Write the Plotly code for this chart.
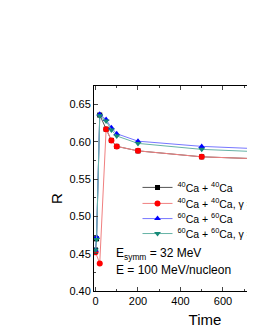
import plotly.graph_objects as go

x_vals = [0, 5, 20, 50, 75, 100, 200, 500, 1000]
x_red = [0, 20, 50, 75, 100, 200, 500, 1000]
ca40 = [0.455, 0.470, 0.636, 0.617, 0.602, 0.594, 0.588, 0.580, 0.575]
ca40_g = [0.452, 0.437, 0.617, 0.602, 0.594, 0.588, 0.580, 0.575]
ca60 = [0.455, 0.4725, 0.637, 0.630, 0.619, 0.611, 0.601, 0.594, 0.588]
ca60_g = [0.455, 0.469, 0.635, 0.628, 0.616, 0.608, 0.598, 0.590, 0.584]

names = ["<sup>40</sup>Ca + <sup>40</sup>Ca",
         "<sup>40</sup>Ca + <sup>40</sup>Ca, γ = 2",
         "<sup>60</sup>Ca + <sup>60</sup>Ca",
         "<sup>60</sup>Ca + <sup>60</sup>Ca, γ = 2"]

fig = go.Figure()
fig.add_trace(go.Scatter(x=x_vals, y=ca40, name=names[0], mode="lines+markers",
                         line=dict(color="#555555", width=1), legend="legend",
                         marker=dict(symbol="square", size=5, color="black")))
fig.add_trace(go.Scatter(x=x_red, y=ca40_g, name=names[1], mode="lines+markers",
                         line=dict(color="#f08080", width=1), legend="legend2",
                         marker=dict(symbol="circle", size=6, color="red")))
fig.add_trace(go.Scatter(x=x_vals, y=ca60, name=names[2], mode="lines+markers",
                         line=dict(color="#7777ff", width=1), legend="legend3",
                         marker=dict(symbol="triangle-up", size=6, color="blue")))
fig.add_trace(go.Scatter(x=x_vals, y=ca60_g, name=names[3], mode="lines+markers",
                         line=dict(color="#66b3a6", width=1), legend="legend4",
                         marker=dict(symbol="triangle-down", size=6, color="#168a78")))

fig.add_annotation(x=86, y=0.449, xref="x", yref="y", text="E<sub>symm</sub> = 32 MeV",
                   showarrow=False, xanchor="left", font=dict(size=12, color="black"))
fig.add_annotation(x=86, y=0.4285, xref="x", yref="y", text="E = 100 MeV/nucleon",
                   showarrow=False, xanchor="left", font=dict(size=12, color="black"))
fig.add_annotation(x=-0.1667, y=0.4537, xref="paper", yref="paper", text="R",
                   textangle=-90, showarrow=False, xanchor="center", yanchor="middle",
                   font=dict(size=15, color="black"))

leg_common = dict(x=0.196, xanchor="left", yanchor="top", bgcolor="rgba(0,0,0,0)",
                  font=dict(size=10.5), itemwidth=30)

fig.update_layout(
    width=308, height=322,
    margin=dict(l=86, r=0, t=78, b=39, autoexpand=False),
    paper_bgcolor="white", plot_bgcolor="white",
    font=dict(family="Liberation Sans, Arial", size=11, color="black"),
    showlegend=True,
    legend=dict(y=0.576, **leg_common),
    legend2=dict(y=0.498, **leg_common),
    legend3=dict(y=0.424, **leg_common),
    legend4=dict(y=0.351, **leg_common),
    xaxis=dict(range=[-7, 1038], showgrid=False, zeroline=False, showline=True,
               linecolor="black", linewidth=1, mirror="ticks", ticks="inside", ticklen=4,
               tickvals=[0, 200, 400, 600, 800, 1000],
               ticktext=["0", "200", "400", "600", "800", "1000"],
               minor=dict(ticks="inside", ticklen=2, dtick=100, tick0=0),
               title=dict(text="Time", font=dict(size=15), standoff=8)),
    yaxis=dict(range=[0.40, 0.675], showgrid=False, zeroline=False, showline=True,
               linecolor="black", linewidth=1, mirror="ticks", ticks="inside", ticklen=4,
               tickvals=[0.40, 0.45, 0.50, 0.55, 0.60, 0.65],
               ticktext=["0.40", "0.45", "0.50", "0.55", "0.60", "0.65"],
               minor=dict(ticks="inside", ticklen=2, dtick=0.025, tick0=0.40)),
)

fig.write_html("out.html")
